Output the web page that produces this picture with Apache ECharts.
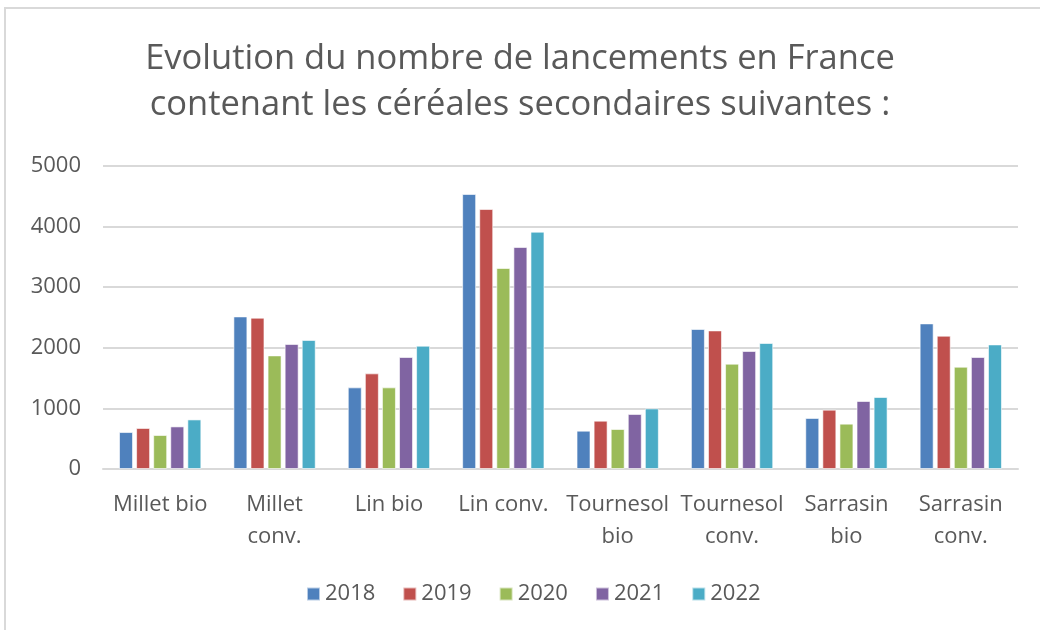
<!DOCTYPE html>
<html><head><meta charset="utf-8">
<script src="https://cdn.jsdelivr.net/npm/echarts@6/dist/echarts.min.js"></script>
<style>html,body{margin:0;padding:0;background:#fff}#c{width:1040px;height:630px}</style>
</head><body><div id="c"></div>
<script>
const categories = ['Millet bio','Millet\nconv.','Lin bio','Lin conv.','Tournesol\nbio','Tournesol\nconv.','Sarrasin\nbio','Sarrasin\nconv.'];
const years = ['2018','2019','2020','2021','2022'];
const v2018 = [610, 2518, 1347, 4538, 632, 2310, 842, 2403];
const v2019 = [677, 2497, 1578, 4290, 797, 2287, 979, 2200];
const v2020 = [561, 1875, 1347, 3317, 660, 1738, 748, 1688];
const v2021 = [703, 2063, 1848, 3663, 908, 1947, 1122, 1848];
const v2022 = [818, 2129, 2035, 3916, 1000, 2079, 1188, 2056];
const yTicks = [0, 1000, 2000, 3000, 4000, 5000];
const colors = ['#4F81BD','#C0504D','#9BBB59','#8064A2','#4BACC6'];
const seriesVals = [v2018, v2019, v2020, v2021, v2022];
const font = 'Open Sans';
const chart = echarts.init(document.getElementById('c'), null, {renderer:'canvas'});
chart.setOption({
  backgroundColor:'#fff',
  animation:false,
  color: colors,
  graphic:[{type:'rect', shape:{x:5,y:8,width:1100,height:700}, style:{fill:'none', stroke:'#d9d9d9', lineWidth:2}, silent:true}],
  title:{
    text:'Evolution du nombre de lancements en France\ncontenant les céréales secondaires suivantes :',
    left:'center', top:31, padding:[5,5,5,23],
    textStyle:{fontFamily:font, fontSize:34.5, fontWeight:'normal', color:'#595959', lineHeight:46}
  },
  legend:{
    bottom:20, left:301, itemWidth:13, itemHeight:13, itemGap:27,
    icon:'rect',
    textStyle:{fontFamily:font, fontSize:22, color:'#595959'},
    data: years
  },
  grid:{left:103, right:22, top:166, bottom:161},
  xAxis:{
    type:'category', data:categories,
    axisLine:{lineStyle:{color:'#d9d9d9', width:2}},
    axisTick:{show:false},
    axisLabel:{fontFamily:font, fontSize:22, color:'#595959', lineHeight:32, margin:20, interval:0}
  },
  yAxis:{
    type:'value', min:0, max:5000, interval:1000,
    axisLine:{show:false}, axisTick:{show:false},
    splitLine:{lineStyle:{color:'#d9d9d9', width:2}},
    axisLabel:{fontFamily:font, fontSize:22, color:'#595959', margin:22, formatter: v => String(v)}
  },
  series: years.map((y,i)=>({
    name:y, type:'bar', data: seriesVals[i],
    barWidth:14, barGap:'22%',
    itemStyle:{borderColor:'rgba(255,255,255,0.6)', borderWidth:1}
  }))
});
</script></body></html>
